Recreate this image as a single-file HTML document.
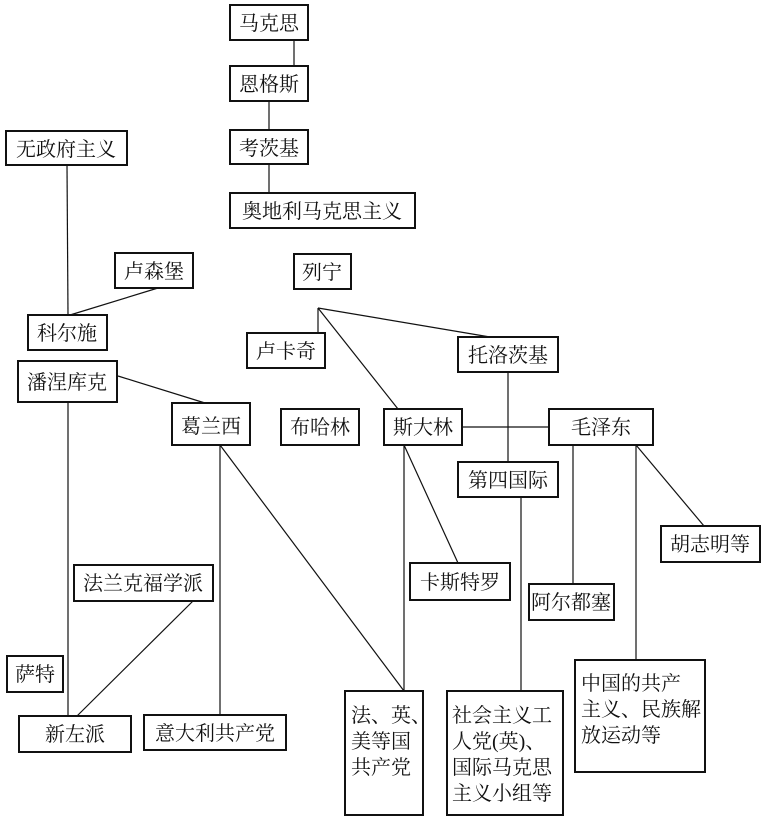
<!DOCTYPE html>
<html><head><meta charset="utf-8"><style>
html,body{margin:0;padding:0;background:#fff;}
svg text{font-family:"Liberation Serif","Noto Serif CJK SC","Noto Sans CJK SC",serif;font-size:20px;fill:#111;}
</style></head><body>
<svg width="766" height="825" viewBox="0 0 766 825" xmlns="http://www.w3.org/2000/svg">
<g stroke="#111" stroke-width="1.2" fill="none">
<line x1="294" y1="40" x2="294" y2="66"/>
<line x1="269" y1="101" x2="269" y2="130"/>
<line x1="269" y1="164" x2="269" y2="193"/>
<line x1="67" y1="165" x2="68" y2="315"/>
<line x1="158" y1="288" x2="70" y2="315"/>
<line x1="118" y1="376" x2="205" y2="403"/>
<line x1="68" y1="402" x2="68" y2="716"/>
<line x1="318" y1="308" x2="318" y2="333"/>
<line x1="318" y1="308" x2="490" y2="337"/>
<line x1="318" y1="308" x2="398" y2="409"/>
<line x1="462" y1="427" x2="549" y2="427"/>
<line x1="508" y1="372" x2="508" y2="462"/>
<line x1="521" y1="497" x2="521" y2="691"/>
<line x1="404" y1="445" x2="404" y2="691"/>
<line x1="404" y1="445" x2="458" y2="563"/>
<line x1="573" y1="445" x2="573" y2="584"/>
<line x1="636" y1="445" x2="636" y2="660"/>
<line x1="636" y1="445" x2="704" y2="526"/>
<line x1="220" y1="445" x2="220" y2="715"/>
<line x1="220" y1="445" x2="404" y2="691"/>
<line x1="193" y1="601" x2="77" y2="716"/>
</g>
<g stroke="#111" stroke-width="2" fill="#fff">
<rect x="230" y="5" width="78" height="35"/>
<rect x="230" y="66" width="78" height="35"/>
<rect x="230" y="130" width="78" height="34"/>
<rect x="230" y="193" width="185" height="35"/>
<rect x="6" y="131" width="121" height="34"/>
<rect x="115" y="253" width="78" height="35"/>
<rect x="28" y="315" width="79" height="35"/>
<rect x="18" y="361" width="99" height="41"/>
<rect x="294" y="254" width="57" height="35"/>
<rect x="247" y="333" width="78" height="35"/>
<rect x="458" y="337" width="100" height="35"/>
<rect x="172" y="403" width="78" height="42"/>
<rect x="281" y="409" width="78" height="36"/>
<rect x="384" y="409" width="78" height="36"/>
<rect x="549" y="409" width="104" height="36"/>
<rect x="458" y="462" width="100" height="35"/>
<rect x="661" y="526" width="99" height="36"/>
<rect x="410" y="563" width="100" height="37"/>
<rect x="529" y="584" width="85" height="36"/>
<rect x="74" y="565" width="139" height="36"/>
<rect x="7" y="656" width="56" height="36"/>
<rect x="19" y="716" width="112" height="36"/>
<rect x="144" y="715" width="142" height="35"/>
<rect x="345" y="691" width="78" height="124"/>
<rect x="447" y="691" width="116" height="124"/>
<rect x="575" y="660" width="130" height="112"/>
</g>
<g>
<text x="269" y="30" text-anchor="middle">马克思</text>
<text x="269" y="91" text-anchor="middle">恩格斯</text>
<text x="269" y="155" text-anchor="middle">考茨基</text>
<text x="322" y="218" text-anchor="middle">奥地利马克思主义</text>
<text x="66" y="156" text-anchor="middle">无政府主义</text>
<text x="154" y="278" text-anchor="middle">卢森堡</text>
<text x="67" y="340" text-anchor="middle">科尔施</text>
<text x="67" y="389" text-anchor="middle">潘涅库克</text>
<text x="322" y="279" text-anchor="middle">列宁</text>
<text x="286" y="358" text-anchor="middle">卢卡奇</text>
<text x="508" y="362" text-anchor="middle">托洛茨基</text>
<text x="211" y="433" text-anchor="middle">葛兰西</text>
<text x="320" y="434" text-anchor="middle">布哈林</text>
<text x="423" y="434" text-anchor="middle">斯大林</text>
<text x="601" y="434" text-anchor="middle">毛泽东</text>
<text x="508" y="487" text-anchor="middle">第四国际</text>
<text x="710" y="551" text-anchor="middle">胡志明等</text>
<text x="460" y="589" text-anchor="middle">卡斯特罗</text>
<text x="571" y="609" text-anchor="middle">阿尔都塞</text>
<text x="143" y="590" text-anchor="middle">法兰克福学派</text>
<text x="35" y="681" text-anchor="middle">萨特</text>
<text x="75" y="741" text-anchor="middle">新左派</text>
<text x="215" y="740" text-anchor="middle">意大利共产党</text>
<text x="351" y="722">法、英、</text>
<text x="351" y="748">美等国</text>
<text x="351" y="774">共产党</text>
<text x="452" y="722">社会主义工</text>
<text x="452" y="748">人党(英)、</text>
<text x="452" y="774">国际马克思</text>
<text x="452" y="800">主义小组等</text>
<text x="581" y="690">中国的共产</text>
<text x="581" y="716">主义、民族解</text>
<text x="581" y="742">放运动等</text>
</g>
</svg>
</body></html>
